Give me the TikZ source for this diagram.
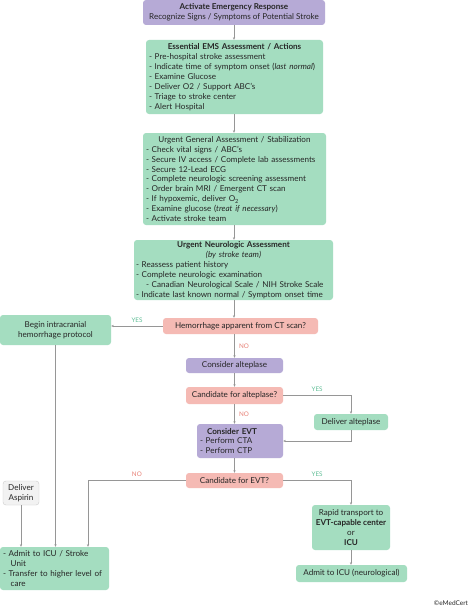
\documentclass[tikz,border=0pt]{standalone}
\usepackage{fontspec}
\setmainfont{Lato}
\usetikzlibrary{arrows.meta}
\definecolor{greenF}{RGB}{164,221,192}
\definecolor{purpleF}{RGB}{182,170,214}
\definecolor{pinkF}{RGB}{245,186,180}
\definecolor{grayF}{RGB}{242,242,242}
\definecolor{grayD}{RGB}{205,205,205}
\definecolor{txt}{RGB}{38,38,38}
\definecolor{yesC}{RGB}{95,190,150}
\definecolor{noC}{RGB}{232,128,118}
\definecolor{lineC}{RGB}{150,150,150}
\newcommand{\boxfont}{\fontsize{8.1}{9.9}\selectfont\hyphenpenalty=10000\relax}
\begin{document}
\begin{tikzpicture}[x=1pt,y=-1pt,
  box/.style={rounded corners=3pt, text=txt, inner xsep=3pt, inner ysep=1pt, font=\boxfont},
  gbox/.style={box, fill=greenF},
  pbox/.style={box, fill=purpleF},
  rbox/.style={box, fill=pinkF},
  ybox/.style={box, fill=grayF, draw=grayD, line width=0.4pt},
  conn/.style={draw=lineC, line width=0.5pt, -{Stealth[length=2.6pt,width=2.2pt]}},
  yes/.style={text=yesC, font=\fontsize{6.3}{7}\selectfont},
  no/.style={text=noC, font=\fontsize{6.3}{7}\selectfont}]
\useasboundingbox (0,0) rectangle (474,610);
\fill[white] (0,0) rectangle (474,610);

\node[pbox, minimum width=182pt, minimum height=25pt, align=center] (act) at (234,12.5)
 {\textbf{Activate Emergency Response}\\Recognize Signs / Symptoms of Potential Stroke};

\node[gbox, minimum width=177pt, minimum height=74pt, text width=171pt, align=left] (ems) at (234.5,77)
 {\hfill\textbf{Essential EMS Assessment / Actions}\hfill\null\\
 - Pre-hospital stroke assessment\\
 - Indicate time of symptom onset (\textit{last normal})\\
 - Examine Glucose\\
 - Deliver O2 / Support ABC's\\
 - Triage to stroke center\\
 - Alert Hospital};

\node[gbox, minimum width=183pt, minimum height=92pt, text width=177pt, align=left] (gen) at (234.5,179)
 {\hfill Urgent General Assessment / Stabilization\hfill\null\\
 - Check vital signs / ABC's\\
 - Secure IV access / Complete lab assessments\\
 - Secure 12-Lead ECG\\
 - Complete neurologic screening assessment\\
 - Order brain MRI / Emergent CT scan\\
 - If hypoxemic, deliver O\textsubscript{2}\\
 - Examine glucose (\textit{treat if necessary})\\
 - Activate stroke team};

\node[gbox, minimum width=199pt, minimum height=60pt, text width=195pt, inner xsep=2pt, align=left] (neu) at (233.5,270)
 {\hfill\textbf{Urgent Neurologic Assessment}\hfill\null\\
 \hfill\textit{(by stroke team)}\hfill\null\\
 - Reassess patient history\\
 - Complete neurologic examination\\
 \hspace*{10pt}- Canadian Neurological Scale / NIH Stroke Scale\\
 - Indicate last known normal / Symptom onset time};

\node[gbox, minimum width=111pt, minimum height=30pt, align=center] (icp) at (55.5,330)
 {Begin intracranial\\hemorrhage protocol};

\node[rbox, minimum width=155pt, minimum height=16pt] (hem) at (240.5,326)
 {Hemorrhage apparent from CT scan?};

\node[pbox, minimum width=97pt, minimum height=15pt] (alt) at (234.5,365.5)
 {Consider alteplase};

\node[rbox, minimum width=97pt, minimum height=17pt] (cal) at (234.5,395.5)
 {Candidate for alteplase?};

\node[gbox, minimum width=74pt, minimum height=16pt] (dal) at (351,422)
 {Deliver alteplase};

\node[pbox, minimum width=86pt, minimum height=34pt, text width=80pt, align=left] (evt) at (240,441)
 {\hspace*{7pt}\textbf{Consider EVT}\\
 - Perform CTA\\
 - Perform CTP};

\node[rbox, minimum width=97pt, minimum height=15pt] (cevt) at (234.5,480.5)
 {Candidate for EVT?};

\node[ybox, minimum width=36pt, minimum height=24pt, inner xsep=1pt, align=center] (asp) at (21,493)
 {Deliver\\Aspirin};

\node[gbox, minimum width=109pt, minimum height=43pt, text width=103pt, align=left] (adm) at (54.5,568.5)
 {- Admit to ICU / Stroke\\
 \hspace*{5pt} Unit\\
 - Transfer to higher level of\\
 \hspace*{5pt} care};

\node[gbox, minimum width=78pt, minimum height=45pt, align=center] (rap) at (351,527.5)
 {Rapid transport to\\\textbf{EVT-capable center}\\or\\\textbf{ICU}};

\node[gbox, minimum width=111pt, minimum height=17pt] (icu) at (351.5,573.5)
 {Admit to ICU (neurological)};

\node[text=txt, font=\fontsize{6.5}{7}\selectfont] (cr) at (451,603) {©eMedCert};

% connectors
\draw[conn] (act.south) -- (act.south |- ems.north);
\draw[conn] (act.south |- ems.south) -- (act.south |- gen.north);
\draw[conn] (act.south |- gen.south) -- (act.south |- neu.north);
\draw[conn] (act.south |- neu.south) -- (act.south |- hem.north);
\draw[conn] (hem.west) -- (hem.west -| icp.east) node[yes, midway, above=0pt] {YES};
\draw[conn] (alt.north |- hem.south) -- (alt.north) node[no, midway, right=1pt] {NO};
\draw[conn] (alt.south) -- (cal.north);
\draw[conn] (cal.east) -| (dal.north) node[yes, pos=0.25, above=0pt] {YES};
\draw[conn] (cal.south) -- (cal.south |- evt.north) node[no, midway, right=1pt] {NO};
\draw[conn] (dal.south) |- (evt.east);
\draw[conn] (cal.south |- evt.south) -- (cevt.north);
\draw[conn] (cevt.west) -| ([xshift=33.5pt]adm.north) node[no, pos=0.25, above=0pt] {NO};
\draw[conn] (cevt.east) -| (rap.north) node[yes, pos=0.25, above=0pt] {YES};
\draw[conn] (icp.south) -- (icp.south |- adm.north);
\draw[conn] (asp.south) -- (asp.south |- adm.north);
\draw[conn] (rap.south) -- (rap.south |- icu.north);
\end{tikzpicture}
\end{document}
